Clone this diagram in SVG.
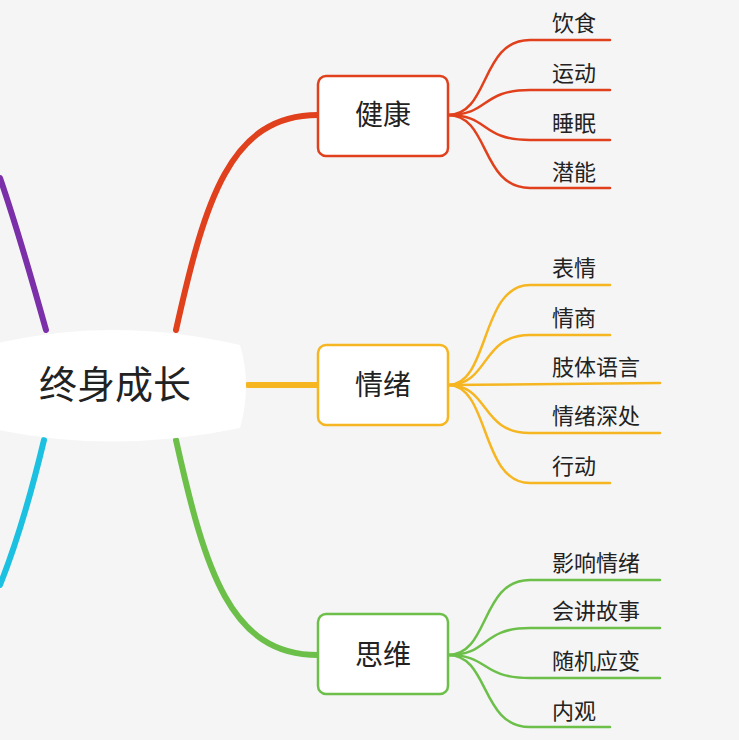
<svg xmlns="http://www.w3.org/2000/svg" width="739" height="740" viewBox="0 0 739 740">
<style>
.t{font-family:"Noto Sans CJK SC","Noto Sans",sans-serif;fill:#222}
.leaf{font-size:22px}
.box{fill:#fff;stroke-width:2.5}
.c{fill:none;stroke-width:2.5;stroke-linecap:round}
.m{fill:none;stroke-width:6;stroke-linecap:round}
</style>
<rect width="739" height="740" fill="#f5f5f5"/>
<g id="connectors">
<path d="M0,178 C18,230 32,280 46,330" class="m" stroke="#7b2fa8"/>
<path d="M44,440 C32,490 18,540 0,585" class="m" stroke="#1cc0e0"/>
<path d="M176,330 C205,200 230,115 318,115" class="m" stroke="#e0401c"/>
<path d="M248,385 L318,385" class="m" stroke="#f5b622"/>
<path d="M176,440 C205,570 230,655 318,655" class="m" stroke="#6cc04a"/>
<g stroke="#e0401c" class="c">
<path d="M448,115 C490,115 480,40 530,40 L610,40"/>
<path d="M448,115 C490,115 480,90 530,90 L610,90"/>
<path d="M448,115 C490,115 480,140 530,140 L610,140"/>
<path d="M448,115 C490,115 480,188 530,188 L610,188"/>
</g>
<g stroke="#f5b622" class="c">
<path d="M448,385 C490,385 480,285 530,285 L610,285"/>
<path d="M448,385 C490,385 480,335 530,335 L610,335"/>
<path d="M448,385 L660,383"/>
<path d="M448,385 C490,385 480,433 530,433 L660,433"/>
<path d="M448,385 C490,385 480,483 530,483 L610,483"/>
</g>
<g stroke="#6cc04a" class="c">
<path d="M448,655 C490,655 480,580 530,580 L660,580"/>
<path d="M448,655 C490,655 480,628 530,628 L660,628"/>
<path d="M448,655 C490,655 480,678 530,678 L660,678"/>
<path d="M448,655 C490,655 480,727 530,727 L610,727"/>
</g>
</g>
<g id="center">
<path d="M-10,345 Q110,315 240,345 Q252,385 240,428 Q110,455 -10,428 Z" fill="#fff"/>
<text x="115" y="398" class="t" font-size="38" text-anchor="middle">终身成长</text>
</g>
<g id="health">
<rect x="318" y="76" width="130" height="80" rx="8" class="box" stroke="#e0401c"/>
<text x="383" y="125" class="t" font-size="28" text-anchor="middle">健康</text>
</g>
<g id="emotion">
<rect x="318" y="345" width="130" height="80" rx="8" class="box" stroke="#f5b622"/>
<text x="383" y="395" class="t" font-size="28" text-anchor="middle">情绪</text>
</g>
<g id="thinking">
<rect x="318" y="614" width="130" height="80" rx="8" class="box" stroke="#6cc04a"/>
<text x="383" y="665" class="t" font-size="28" text-anchor="middle">思维</text>
</g>
<g id="leaves" class="t leaf">
<text x="552" y="31">饮食</text>
<text x="552" y="81">运动</text>
<text x="552" y="131">睡眠</text>
<text x="552" y="180">潜能</text>
<text x="552" y="276">表情</text>
<text x="552" y="326">情商</text>
<text x="552" y="375">肢体语言</text>
<text x="552" y="424">情绪深处</text>
<text x="552" y="474">行动</text>
<text x="552" y="571">影响情绪</text>
<text x="552" y="619">会讲故事</text>
<text x="552" y="669">随机应变</text>
<text x="552" y="719">内观</text>
</g>
</svg>
